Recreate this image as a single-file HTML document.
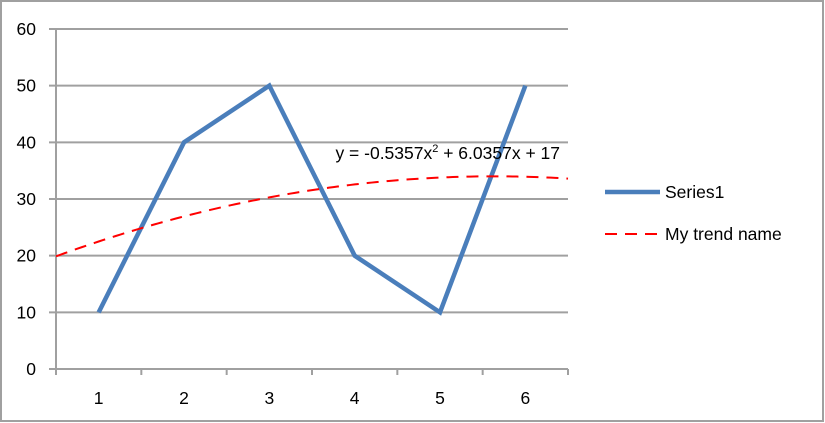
<!DOCTYPE html>
<html><head><meta charset="utf-8"><style>
body{margin:0;background:#fff}
svg{display:block;font-family:"Liberation Sans",Calibri,sans-serif}
</style></head><body>
<svg width="825" height="423">
<rect x="1" y="1" width="822" height="420" fill="#fff" stroke="#a0a0a0" stroke-width="2"/>
<g id="grid"></g><g id="axes"></g><g id="marks"></g>
<text x="560" y="159" font-size="17.5" text-anchor="end" fill="#000">y = -0.5357x<tspan font-size="11" dy="-7">2</tspan><tspan dy="7"> + 6.0357x + 17</tspan></text>
<g>
<line x1="605" y1="192" x2="660" y2="192" stroke="#4a7ebb" stroke-width="4.5"/>
<text x="665" y="198" font-size="17.5">Series1</text>
<line x1="605" y1="234" x2="660" y2="234" stroke="#ff0000" stroke-width="2" stroke-dasharray="12,8"/>
<text x="665" y="240" font-size="17.5">My trend name</text>
</g>
</svg>
<script>
const categories=[1,2,3,4,5,6];
const series1=[10,40,50,20,10,50];
const yTicks=[0,10,20,30,40,50,60];
const trendCoef=[-0.5357,6.0357,17];
const NS="http://www.w3.org/2000/svg";
const X0=56,X1=568,Y0=369,Y1=29,YMAX=60;
const bw=(X1-X0)/categories.length;
function xs(i){return X0+bw*(i+0.5);}
function xc(x){return X0+bw*(x-0.5);}
function ys(v){return Y0-(v/YMAX)*(Y0-Y1);}
function mk(tag,attrs,parent){const e=document.createElementNS(NS,tag);for(const k in attrs)e.setAttribute(k,attrs[k]);document.getElementById(parent).appendChild(e);return e;}
yTicks.forEach(t=>{
 const l=mk('line',{x1:49,x2:X1,y1:ys(t),y2:ys(t),stroke:'#a0a0a0','stroke-width':2},'grid');
 
 
 const tx=mk('text',{x:36,y:ys(t)+6,'font-size':17.5,'text-anchor':'end'},'axes');
 tx.textContent=t;
 
 
});
const ya=mk('line',{x1:X0,x2:X0,y1:Y1,y2:Y0+6,stroke:'#a0a0a0','stroke-width':2},'axes');


for(let i=0;i<=categories.length;i++){
 const t=mk('line',{x1:X0+bw*i,x2:X0+bw*i,y1:Y0,y2:Y0+6,stroke:'#a0a0a0','stroke-width':2},'axes');
 
 
}
categories.forEach((c,i)=>{
 const tx=mk('text',{x:xs(i),y:404,'font-size':17.5,'text-anchor':'middle'},'axes');
 tx.textContent=c;
 
 
});
const pts=series1.map((v,i)=>xs(i)+','+ys(v)).join(' ');
const line=mk('polyline',{points:pts,fill:'none',stroke:'#4a7ebb','stroke-width':4.5,'stroke-linejoin':'miter'},'marks');


let tp=[];
for(let x=0.5;x<=6.5001;x+=0.05){const v=trendCoef[0]*x*x+trendCoef[1]*x+trendCoef[2];tp.push(xc(x)+','+ys(v));}
const tr=mk('polyline',{points:tp.join(' '),fill:'none',stroke:'#ff0000','stroke-width':2,'stroke-dasharray':'12,8'},'marks');


</script>
</body></html>
